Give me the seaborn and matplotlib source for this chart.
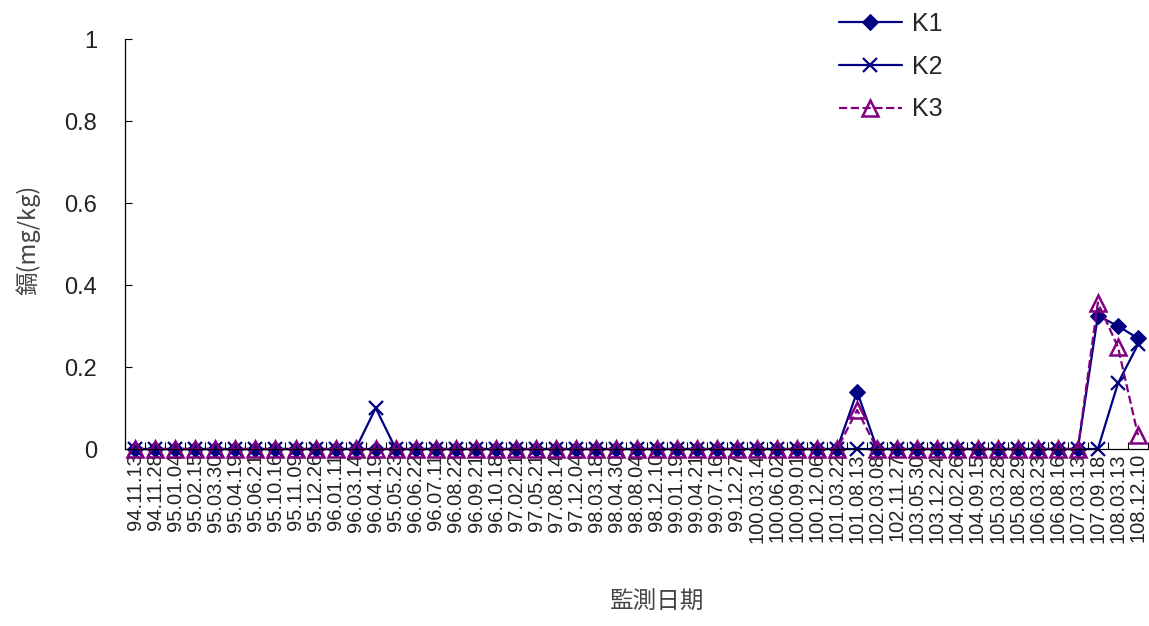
#!/usr/bin/env python3
# -*- coding: utf-8 -*-
import numpy as np
import pandas as pd
import matplotlib
matplotlib.use("Agg")
import matplotlib.pyplot as plt
from matplotlib.ticker import FixedLocator
import seaborn as sns

sns.set_theme(style="white")
plt.rcParams['font.family'] = ['Liberation Sans', 'Noto Sans CJK TC', 'DejaVu Sans']
plt.rcParams['axes.unicode_minus'] = False

# 監測日期
dates = ["94.11.13", "94.11.28", "95.01.04", "95.02.15", "95.03.30", "95.04.19",
         "95.06.21", "95.10.16", "95.11.09", "95.12.26", "96.01.11", "96.03.14",
         "96.04.19", "95.05.23", "96.06.22", "96.07.11", "96.08.22", "96.09.21",
         "96.10.18", "97.02.21", "97.05.21", "97.08.14", "97.12.04", "98.03.18",
         "98.04.30", "98.08.04", "98.12.10", "99.01.19", "99.04.21", "99.07.16",
         "99.12.27", "100.03.14", "100.06.02", "100.09.01", "100.12.06", "101.03.22",
         "101.08.13", "102.03.08", "102.11.27", "103.05.30", "103.12.24", "104.02.26",
         "104.09.15", "105.03.28", "105.08.29", "106.03.23", "106.08.16", "107.03.13",
         "107.09.18", "108.03.13", "108.12.10"]

# 鎘 (mg/kg), 只列出非零值
k1_nonzero = {36: 0.14, 48: 0.325, 49: 0.30, 50: 0.27}
k2_nonzero = {12: 0.10, 49: 0.16, 50: 0.255}
k3_nonzero = {36: 0.095, 48: 0.357, 49: 0.249, 50: 0.034}

k1 = [k1_nonzero.get(i, 0.0) for i in range(len(dates))]
k2 = [k2_nonzero.get(i, 0.0) for i in range(len(dates))]
k3 = [k3_nonzero.get(i, 0.0) for i in range(len(dates))]

df = pd.DataFrame({"pos": np.arange(len(dates)), "K1": k1, "K2": k2, "K3": k3})

NAVY = "#000080"
PURPLE = "#800080"

fig = plt.figure(figsize=(11.49, 6.26), dpi=100)
ax = fig.add_axes([125 / 1149, 1 - 449 / 626, 1023 / 1149, 410 / 626])

sns.lineplot(data=df, x="pos", y="K1", ax=ax, color=NAVY, lw=1.6, marker="D",
             markersize=8, markeredgecolor=NAVY, label="K1", clip_on=False)
sns.lineplot(data=df, x="pos", y="K2", ax=ax, color=NAVY, lw=1.6, marker="x",
             markersize=10, markeredgewidth=1.6, markeredgecolor=NAVY, label="K2",
             clip_on=False)
sns.lineplot(data=df, x="pos", y="K3", ax=ax, color=PURPLE, lw=1.6, marker="^",
             markersize=12, markerfacecolor="none", markeredgecolor=PURPLE,
             markeredgewidth=1.8, linestyle="--", dashes=(2.5, 1.5), label="K3",
             clip_on=False)

ax.set_xlim(-0.5, len(dates) - 0.5)
ax.set_ylim(0, 1)
ax.set_yticks([0, 0.2, 0.4, 0.6, 0.8, 1.0])
ax.set_yticklabels(["0", "0.2", "0.4", "0.6", "0.8", "1"], fontsize=17, color="#222222")
ax.set_xticks(np.arange(len(dates)))
ax.set_xticklabels(dates, rotation=90, fontsize=14.5, color="#222222")
ax.xaxis.set_minor_locator(FixedLocator(np.arange(len(dates) + 1) - 0.5))
ax.tick_params(axis="x", which="major", length=0, pad=3)
ax.tick_params(axis="x", which="minor", direction="in", length=5, width=0.8,
               color="black", bottom=True)
ax.tick_params(axis="y", which="major", direction="in", length=5, width=0.8,
               color="black", left=True, pad=20)

sns.despine(ax=ax)
for s in ["left", "bottom"]:
    ax.spines[s].set_color("black")
    ax.spines[s].set_linewidth(0.9)

ax.set_xlabel("監測日期", fontsize=17, color="#444444",
              family=['Noto Sans CJK TC', 'DejaVu Sans'])
ax.set_ylabel("鎘(mg/kg)", fontsize=17, color="#444444",
              family=['Noto Sans CJK TC', 'DejaVu Sans'])
ax.xaxis.set_label_coords(0.52, -0.345)
ax.yaxis.set_label_coords(-0.083, 0.51)

leg = ax.legend(loc="upper left", bbox_to_anchor=(834 / 1149, 1 - 7 / 626),
                bbox_transform=fig.transFigure, frameon=False, fontsize=18,
                handlelength=2.5, labelspacing=0.75, handletextpad=0.4,
                borderaxespad=0, borderpad=0.2)

fig.savefig("out.png", dpi=100)
